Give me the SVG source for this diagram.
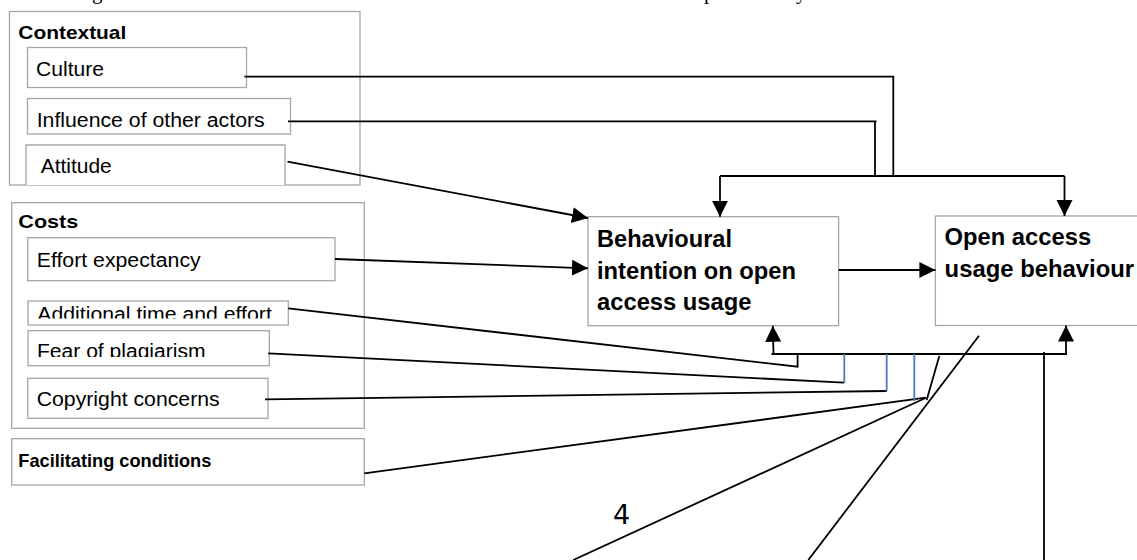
<svg xmlns="http://www.w3.org/2000/svg" width="1137" height="560" viewBox="0 0 1137 560">
<style>
.box{fill:#fff;stroke:#a6a6a6;stroke-width:1.3}
.t{font-family:"Liberation Sans",Arial,sans-serif;font-size:19.5px;fill:#000}
.hb{font-family:"Liberation Sans",Arial,sans-serif;font-size:18.5px;font-weight:bold;fill:#000}
.big{font-family:"Liberation Sans",Arial,sans-serif;font-size:23.5px;font-weight:bold;fill:#000}
.ln{fill:none;stroke:#000;stroke-width:1.8}
.ar{fill:none;stroke:#000;stroke-width:1.8;marker-end:url(#ah)}
.bl{fill:none;stroke:#4a7ebb;stroke-width:1.8}
.frag{font-family:"Liberation Serif","Times New Roman",serif;font-size:21px;fill:#000}
</style>
<defs>
<marker id="ah" markerUnits="userSpaceOnUse" markerWidth="18" markerHeight="18" refX="16" refY="8" orient="auto">
<path d="M0,0 L16,8 L0,16 Z" fill="#000"/>
</marker>
<clipPath id="clipAdd"><rect x="28" y="301" width="260" height="17.5"/></clipPath>
<clipPath id="clipFear"><rect x="28" y="331" width="241" height="26"/></clipPath>
</defs>

<g id="caption-fragments">
<text class="frag" x="92" y="-1.2">g</text>
<text class="frag" x="704" y="-1.2">p</text>
<text class="frag" x="796" y="-1.2">y</text>
</g>

<g id="contextual">
<rect class="box" x="9.5" y="11.5" width="350.5" height="173.5"/>
<text class="hb" x="18.3" y="39" textLength="108" lengthAdjust="spacingAndGlyphs">Contextual</text>
</g>
<g id="culture">
<rect class="box" x="27.5" y="47.5" width="219" height="40"/>
<text class="t" x="36" y="76" textLength="68" lengthAdjust="spacingAndGlyphs">Culture</text>
</g>
<g id="influence">
<rect class="box" x="27.5" y="98.5" width="263" height="35.5"/>
<text class="t" x="36.7" y="127.3" textLength="228" lengthAdjust="spacingAndGlyphs">Influence of other actors</text>
</g>
<g id="attitude">
<path class="box" d="M26,185 V145 H285 V185"/>
<text class="t" x="40.7" y="172.7" textLength="71" lengthAdjust="spacingAndGlyphs">Attitude</text>
</g>

<g id="costs">
<rect class="box" x="11.7" y="202.7" width="352.6" height="225.6"/>
<text class="hb" x="18.3" y="228.3" textLength="60" lengthAdjust="spacingAndGlyphs">Costs</text>
</g>
<g id="effort">
<rect class="box" x="27.7" y="237.7" width="307.3" height="43"/>
<text class="t" x="36.7" y="266.7" textLength="164" lengthAdjust="spacingAndGlyphs">Effort expectancy</text>
</g>
<g id="additional">
<rect class="box" x="28" y="301" width="260.3" height="24"/>
<text class="t" x="37.3" y="320.5" textLength="234.5" lengthAdjust="spacingAndGlyphs" clip-path="url(#clipAdd)">Additional time and effort</text>
</g>
<g id="fear">
<rect class="box" x="28" y="330.7" width="241.3" height="35"/>
<text class="t" x="37" y="357.8" textLength="168.5" lengthAdjust="spacingAndGlyphs" clip-path="url(#clipFear)">Fear of plagiarism</text>
</g>
<g id="copyright">
<rect class="box" x="27.7" y="378.3" width="240.3" height="40"/>
<text class="t" x="36.7" y="406" textLength="183" lengthAdjust="spacingAndGlyphs">Copyright concerns</text>
</g>

<g id="facilitating">
<rect class="box" x="11.7" y="438.7" width="352.6" height="46.3"/>
<text class="hb" x="18.3" y="466.7" textLength="193" lengthAdjust="spacingAndGlyphs">Facilitating conditions</text>
</g>

<g id="behavioural">
<rect class="box" x="588" y="216.7" width="250.6" height="109"/>
<text class="big" x="597" y="247.3" textLength="135" lengthAdjust="spacingAndGlyphs">Behavioural</text>
<text class="big" x="597" y="278.5" textLength="199" lengthAdjust="spacingAndGlyphs">intention on open</text>
<text class="big" x="597" y="310" textLength="154.5" lengthAdjust="spacingAndGlyphs">access usage</text>
</g>

<g id="openaccess">
<rect class="box" x="935.4" y="216" width="205" height="109.5"/>
<text class="big" x="944.6" y="245.3" textLength="146.5" lengthAdjust="spacingAndGlyphs">Open access</text>
<text class="big" x="944.6" y="277.3" textLength="189.5" lengthAdjust="spacingAndGlyphs">usage behaviour</text>
</g>

<g id="label-4">
<text x="613" y="524" style="font-family:'DejaVu Sans',sans-serif;font-size:27px;fill:#000">4</text>
</g>

<g id="connectors">
<path class="ln" d="M244.5,76.7 H893.3 V176"/>
<path class="ln" d="M288,121.3 H876.5 M875,121.3 V176"/>
<path class="ln" d="M720,176 H1064.5"/>
<path class="ar" d="M720,176 V216.7"/>
<path class="ar" d="M1064.5,176 V216"/>
<path class="ar" d="M287.5,161.7 L588,218"/>
<path class="ar" d="M335,259 L588,268.3"/>
<path class="ar" d="M838.6,270 L935.4,270"/>
<path class="ln" d="M771.5,354 H1067"/>
<path class="ar" d="M773.5,354 L772.8,325.7"/>
<path class="ar" d="M1066,354 V325.5"/>
<path class="ln" d="M288.3,308.3 L797.6,366.7 V354"/>
<path class="ln" d="M268.3,353.3 L844.3,382.7"/>
<path class="bl" d="M844.3,354 V382.7"/>
<path class="ln" d="M265,399.3 L886.7,391"/>
<path class="bl" d="M886.7,354 V391"/>
<path class="ln" d="M364.3,473.3 L925.7,397.7"/>
<path class="bl" d="M914.3,354 V401"/>
<path class="ln" d="M939.3,356 L926.7,400"/>
<path class="ln" d="M573.3,560 L926,397.7"/>
<path class="ln" d="M808.3,560 L979,335.7"/>
<path class="ln" d="M1044,352 V560"/>
</g>
</svg>
